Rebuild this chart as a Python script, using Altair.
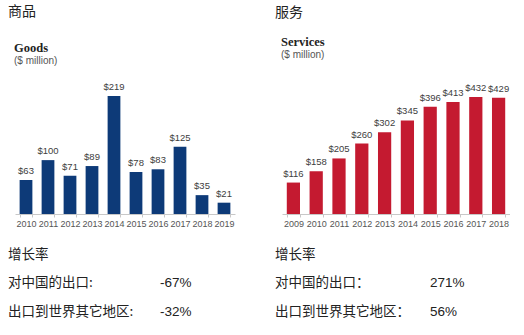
import altair as alt
import pandas as pd

goods_years = ["2010", "2011", "2012", "2013", "2014", "2015", "2016", "2017", "2018", "2019"]
goods_values = [63, 100, 71, 89, 219, 78, 83, 125, 35, 21]

services_years = ["2009", "2010", "2011", "2012", "2013", "2014", "2015", "2016", "2017", "2018"]
services_values = [116, 158, 205, 260, 302, 345, 396, 413, 432, 429]

goods_growth = ["-67%", "-32%"]
services_growth = ["271%", "56%"]
growth_labels = ["增长率", "对中国的出口:", "出口到世界其它地区:"]
growth_labels_r = ["增长率", "对中国的出口：", "出口到世界其它地区："]

CJK = "Noto Sans CJK SC"
SANS = "Liberation Sans"
SERIF = "Liberation Serif"


def text_layer(txt, x, y, size=14, font=CJK, weight="normal", color="#222222", baseline="middle"):
    return alt.Chart(pd.DataFrame({"t": [txt]})).mark_text(
        align="left", baseline=baseline, font=font, fontSize=size, fontWeight=weight, color=color
    ).encode(text="t:N", x=alt.value(x), y=alt.value(y))


def panel(years, values, color, ymax, width, head_cn, head_en, en_y, unit_y, cn_y,
          labels, growth, gx, tx):
    df = pd.DataFrame({"year": years, "value": values})
    df["label"] = ["$" + str(v) for v in values]
    xenc = alt.X("year:N", sort=years, title=None,
                 scale=alt.Scale(paddingInner=0.42, paddingOuter=0.21),
                 axis=alt.Axis(labelAngle=0, labelFont=SANS, labelFontSize=9, labelColor="#555555",
                               domainColor="#c8c8c8", tickColor="#c8c8c8", tickSize=3,
                               tickBand="extent", labelPadding=2))
    yenc = alt.Y("value:Q", scale=alt.Scale(domain=[0, ymax], nice=False), axis=None)
    bars = alt.Chart(df).mark_bar(color=color).encode(x=xenc, y=yenc)
    lab = alt.Chart(df).mark_text(baseline="alphabetic", dy=-6, font=SANS, fontSize=9.5,
                                  color="#404040").encode(
        x=alt.X("year:N", sort=years), y=alt.Y("value:Q"), text="label:N")
    layers = [bars, lab,
              text_layer(head_cn, tx, cn_y, size=14, baseline="top"),
              text_layer(head_en, tx + 6, en_y, size=12.5, font=SERIF, weight="bold", baseline="top"),
              text_layer("($ million)", tx + 6, unit_y, size=10, font=SANS, color="#555555", baseline="top"),
              text_layer(labels[0], tx, 173, size=13.5),
              text_layer(labels[1], tx, 201, size=13.5),
              text_layer(labels[2], tx, 230, size=13.5),
              text_layer(growth[0], gx, 201, size=13.5, font=SANS),
              text_layer(growth[1], gx, 230, size=13.5, font=SANS)]
    return alt.layer(*layers).properties(width=width, height=132)


left = panel(goods_years, goods_values, "#0d3a78", 245, 220, "商品", "Goods", -40, -26, -77,
             growth_labels, goods_growth, 145, -7)
right = panel(services_years, services_values, "#c41a30", 487, 228, "服务", "Services", -46, -32, -76,
              growth_labels_r, services_growth, 148, -7)

chart = alt.hconcat(left, right, spacing=40).properties(
    padding={"left": 8, "top": 5, "right": 0, "bottom": 0},
    background="white"
).configure_view(stroke=None, strokeWidth=0)

chart.save("out.html", embed_options={"renderer": "svg", "actions": False})
